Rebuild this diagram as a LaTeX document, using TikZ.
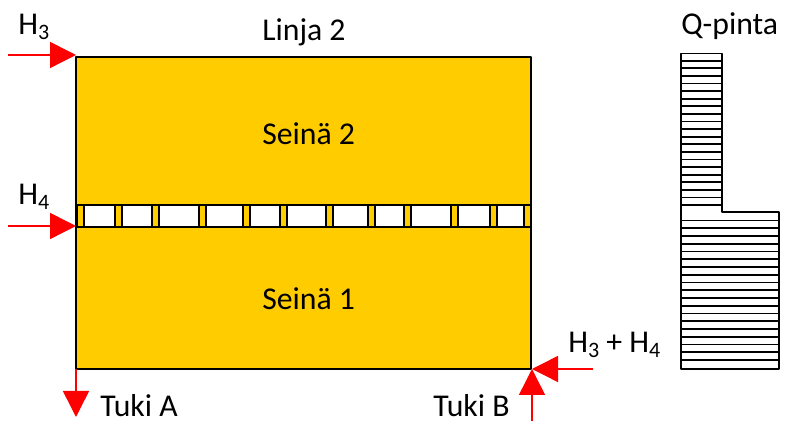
\documentclass[tikz,border=0pt]{standalone}
\usepackage{fontspec}
\usepackage{tkz-euclide}
\usetikzlibrary{arrows.meta}
\setmainfont{Carlito}
\definecolor{wallcol}{HTML}{FFCC00}
\newcommand{\ssub}[1]{\raisebox{-3.6pt}{\fontsize{16.5}{16.5}\selectfont #1}}
\tikzset{
	wall/.style={fill=wallcol,draw=black,line width=1.1pt},
	peg/.style={fill=wallcol,draw=black,line width=1.5pt},
	force/.style={draw=red,line width=1.1pt,-{Triangle[length=19.5pt,width=19.5pt]}},
	hatch/.style={draw=black,line width=1.4pt},
	lab/.style={anchor=base west,inner sep=0pt,font=\fontsize{23.8}{26}\selectfont}
}

\begin{document}
\begin{tikzpicture}[x=0.75pt,y=0.75pt]
		\useasboundingbox (0,0) rectangle (791,423);
		% walls
		\tkzDefPoint(76,54){A}
		\tkzDefPoint(531,54){B}
		\tkzDefPoint(531,196){C}
		\tkzDefPoint(76,196){D}
		\tkzDrawPolygon[wall](A,B,C,D)

		\tkzDefPoint(76,218){E}
		\tkzDefPoint(531,218){F}
		\tkzDefPoint(531,366){G}
		\tkzDefPoint(76,366){H}
		\tkzDrawPolygon[wall](E,F,G,H)

		% gap between the walls
		\draw[wall,fill=white] (76,196) rectangle (531,218);
		\foreach \x in {76.5,114.5,151.5,198.5,242.5,279.5,325.5,367.5,403.5,450.5,489.5,523.5}
			\draw[peg] (\x,196) rectangle (\x+7,218);

		% Q-pinta
		\foreach \y in {0,...,19}
			\draw[hatch] (681,362.3-7.6*\y) -- (722,362.3-7.6*\y);
		\foreach \y in {0,...,18}
			\draw[hatch] (681,202.5-7.75*\y) -- (779,202.5-7.75*\y);
		\tkzDefPoint(681,369.5){Qa}
		\tkzDefPoint(722,369.5){Qb}
		\tkzDefPoint(722,211){Qc}
		\tkzDefPoint(779,211){Qd}
		\tkzDefPoint(779,54){Qe}
		\tkzDefPoint(681,54){Qf}
		\tkzDrawPolygon[hatch](Qa,Qb,Qc,Qd,Qe,Qf)

		% forces
		\tkzDefPoint(8,368){Ha}
		\tkzDefPoint(76,368){Hb}
		\tkzDefPoint(8,197){Hc}
		\tkzDefPoint(76,197){Hd}
		\tkzDefPoint(593,54){He}
		\tkzDefPoint(532,54){Hf}
		\tkzDefPoint(532,2){Ta}
		\tkzDefPoint(532,54){Tb}
		\tkzDefPoint(76,54){Tc}
		\tkzDefPoint(76,6){Td}
		\draw[force] (Ha) -- (Hb);
		\draw[force] (Hc) -- (Hd);
		\draw[force] (He) -- (Hf);
		\draw[force] (Ta) -- (Tb);
		\draw[force] (Tc) -- (Td);

		% labels
		\node[lab] (h3) at (18,388) {H\ssub{3}};
		\node[lab] (h4) at (18,218) {H\ssub{4}};
		\node[lab] (linja) at (262,382) {Linja 2};
		\node[lab] (qpinta) at (681,388) {Q-pinta};
		\node[lab] (seina2) at (262,278) {Seinä 2};
		\node[lab] (seina1) at (262,113) {Seinä 1};
		\node[lab] (sum) at (568,70) {H\ssub{3} + H\ssub{4}};
		\node[lab] (tukia) at (100,6) {Tuki A};
		\node[lab] (tukib) at (433,6) {Tuki B};
	\end{tikzpicture}
\end{document}
